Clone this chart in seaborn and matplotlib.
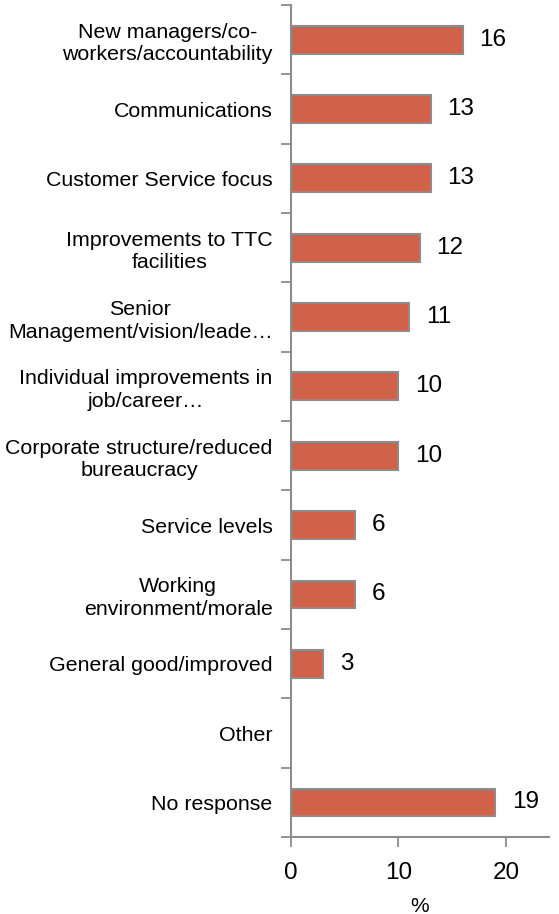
import numpy as np
import pandas as pd
import matplotlib
matplotlib.use("Agg")
import matplotlib.pyplot as plt
import seaborn as sns

categories = [
    "New managers/co-\nworkers/accountability",
    "Communications",
    "Customer Service focus",
    "Improvements to TTC\nfacilities",
    "Senior\nManagement/vision/leade…",
    "Individual improvements in\njob/career…",
    "Corporate structure/reduced\nbureaucracy",
    "Service levels",
    "Working\nenvironment/morale",
    "General good/improved",
    "Other",
    "No response",
]
percent = [16, 13, 13, 12, 11, 10, 10, 6, 6, 3, np.nan, 19]
x_ticks = [0, 10, 20]

bar_color = "#D0624A"
edge_color = "#8C8C8C"
axis_color = "#8C8C8C"

sns.set_theme(style="white")
plt.rcParams["font.family"] = ["Liberation Sans", "DejaVu Sans"]
plt.rcParams["text.color"] = "black"
plt.rcParams["xtick.labelcolor"] = "black"
plt.rcParams["ytick.labelcolor"] = "black"
plt.rcParams["axes.labelcolor"] = "black"

df = pd.DataFrame({"category": categories, "percent": percent})

fig = plt.figure(figsize=(5.59, 9.14), dpi=100)
ax = fig.add_axes([0.520, 0.0842, 0.462, 0.9103])

sns.barplot(
    data=df.dropna(), x="percent", y="category", order=categories,
    orient="h", color=bar_color, width=0.4, saturation=1,
    edgecolor=edge_color, linewidth=1.5, ax=ax,
)

for cont in ax.containers:
    ax.bar_label(cont, fmt="%g", padding=12, fontsize=17.5, color="black")

ax.set_xlim(0, 24)
ax.set_ylim(len(categories) - 0.5, -0.5)
ax.set_xticks(x_ticks)
ax.set_xticklabels([str(t) for t in x_ticks], fontsize=17.5)
ax.set_xlabel("%", fontsize=15, labelpad=9)
ax.set_ylabel("")

# category labels centred on the bars, tick marks on the boundaries
ax.set_yticks(range(len(categories)))
ax.set_yticklabels(categories, fontsize=15.4, multialignment="center", linespacing=1.25)
ax.tick_params(axis="y", which="major", length=0, pad=13)
ax.set_yticks(np.arange(-0.5, len(categories)), minor=True)
ax.tick_params(axis="y", which="minor", length=7, width=1.3, color=axis_color, left=True)
ax.tick_params(axis="x", length=7, width=1.3, color=axis_color, pad=11, bottom=True)

for side in ["top", "right"]:
    ax.spines[side].set_visible(False)
for side in ["left", "bottom"]:
    ax.spines[side].set_color(axis_color)
    ax.spines[side].set_linewidth(1.5)

fig.savefig("out.png", dpi=100)
